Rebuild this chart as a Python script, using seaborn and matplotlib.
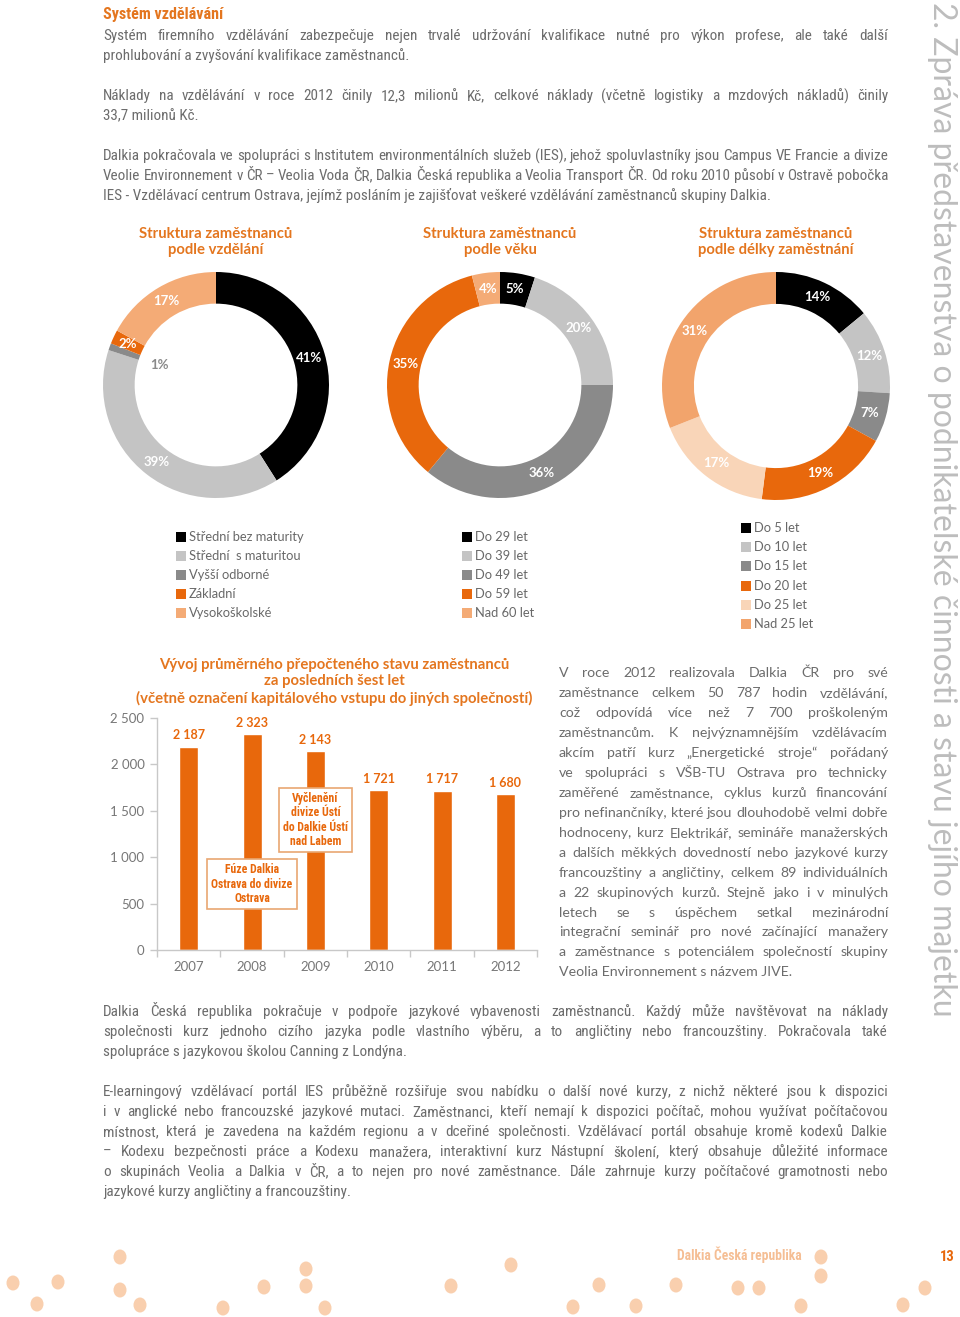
import numpy as np
import pandas as pd
import matplotlib
matplotlib.use("Agg")
import matplotlib.pyplot as plt
from matplotlib import font_manager as fm
from matplotlib.patches import Rectangle, Ellipse
import seaborn as sns

# ------------------------------------------------------------------ data
HEADING = "Systém vzdělávání"
TOP_PARAS = [
    ["Systém firemního vzdělávání zabezpečuje nejen trvalé udržování kvalifikace nutné pro výkon profese, ale také další",
     "prohlubování a zvyšování kvalifikace zaměstnanců."],
    ["Náklady na vzdělávání v roce 2012 činily 12,3 milionů Kč, celkové náklady (včetně logistiky a mzdových nákladů) činily",
     "33,7 milionů Kč."],
    ["Dalkia pokračovala ve spolupráci s Institutem environmentálních služeb (IES), jehož spoluvlastníky jsou Campus VE Francie a divize",
     "Veolie Environnement v ČR – Veolia Voda ČR,  Dalkia Česká republika a Veolia Transport ČR. Od roku 2010 působí v Ostravě pobočka",
     "IES - Vzdělávací centrum Ostrava, jejímž posláním je zajišťovat veškeré vzdělávání zaměstnanců skupiny Dalkia."],
]
BOTTOM_PARAS = [
    ["Dalkia Česká republika pokračuje v podpoře jazykové vybavenosti zaměstnanců. Každý může navštěvovat na náklady",
     "společnosti kurz jednoho cizího jazyka podle vlastního výběru, a to angličtiny nebo francouzštiny. Pokračovala také",
     "spolupráce s jazykovou školou Canning z Londýna."],
    ["E-learningový vzdělávací portál IES průběžně rozšiřuje svou nabídku o další nové kurzy, z nichž některé jsou k dispozici",
     "i v anglické nebo francouzské jazykové mutaci. Zaměstnanci, kteří nemají k dispozici počítač, mohou využívat počítačovou",
     "místnost, která je zavedena na každém regionu a v dceřiné společnosti. Vzdělávací portál obsahuje kromě kodexů Dalkie",
     "– Kodexu bezpečnosti práce a Kodexu manažera, interaktivní kurz Nástupní školení, který obsahuje důležité informace",
     "o skupinách Veolia a Dalkia v ČR, a to nejen pro nové zaměstnance. Dále zahrnuje kurzy počítačové gramotnosti nebo",
     "jazykové kurzy angličtiny a francouzštiny."],
]
SIDE_PARA = [
    "V roce 2012 realizovala Dalkia ČR pro své",
    "zaměstnance celkem 50 787 hodin vzdělávání,",
    "což odpovídá více než 7 700 proškoleným",
    "zaměstnancům. K nejvýznamnějším vzdělávacím",
    "akcím patří kurz „Energetické stroje“ pořádaný",
    "ve spolupráci s VŠB-TU Ostrava pro technicky",
    "zaměřené zaměstnance, cyklus kurzů financování",
    "pro nefinančníky, které jsou dlouhodobě velmi dobře",
    "hodnoceny, kurz Elektrikář, semináře manažerských",
    "a dalších měkkých dovedností nebo jazykové kurzy",
    "francouzštiny a angličtiny, celkem 89 individuálních",
    "a 22 skupinových kurzů. Stejně jako i v minulých",
    "letech se s úspěchem setkal mezinárodní",
    "integrační seminář pro nové začínající manažery",
    "a zaměstnance s potenciálem společností skupiny",
    "Veolia Environnement s názvem JIVE.",
]
VERTICAL_TITLE = "2. Zpráva představenstva o podnikatelské činnosti a stavu jejího majetku"
FOOTER_TEXT = "Dalkia Česká republika"
PAGE_NO = "13"

EDU_TITLE = ["Struktura zaměstnanců", "podle vzdělání"]
EDU_LABELS = ["Střední bez maturity", "Střední  s maturitou", "Vyšší odborné", "Základní", "Vysokoškolské"]
EDU_VALUES = [41, 39, 1, 2, 17]

AGE_TITLE = ["Struktura zaměstnanců", "podle věku"]
AGE_LABELS = ["Do 29 let", "Do 39 let", "Do 49 let", "Do 59 let", "Nad 60 let"]
AGE_VALUES = [5, 20, 36, 35, 4]

TENURE_TITLE = ["Struktura zaměstnanců", "podle délky zaměstnání"]
TENURE_LABELS = ["Do 5 let", "Do 10 let", "Do 15 let", "Do 20 let", "Do 25 let", "Nad 25 let"]
TENURE_VALUES = [14, 12, 7, 19, 17, 31]

BAR_TITLE = ["Vývoj průměrného přepočteného stavu zaměstnanců",
             "za posledních šest let",
             "(včetně označení kapitálového vstupu do jiných společností)"]
YEARS = ["2007", "2008", "2009", "2010", "2011", "2012"]
HEADCOUNT = [2187, 2323, 2143, 1721, 1717, 1680]
Y_TICKS = [0, 500, 1000, 1500, 2000, 2500]
Y_TICK_LABELS = ["0", "500", "1 000", "1 500", "2 000", "2 500"]
NOTE_MERGER = "Fúze Dalkia\nOstrava do divize\nOstrava"
NOTE_MERGER_AT = (1, 710)
NOTE_SPINOFF = "Vyčlenění\ndivize Ústí\ndo Dalkie Ústí\nnad Labem"
NOTE_SPINOFF_AT = (2, 1400)

DECOR_DOTS = [(13, 1283), (58, 1282), (37, 1304), (120, 1257), (120, 1290), (140, 1305),
              (223, 1308), (264, 1287), (306, 1269), (306, 1286), (325, 1308), (451, 1286),
              (511, 1265), (599, 1285), (573, 1307), (636, 1306), (676, 1285), (738, 1288),
              (759, 1288), (821, 1257), (821, 1276), (801, 1306), (903, 1305), (925, 1288)]

# ------------------------------------------------------------------ style
BLACK = "#000000"
LGRAY = "#c4c4c4"
MGRAY = "#8a8a8a"
ORANGE = "#e8680c"
LORANGE = "#f4ab76"
LORANGE2 = "#f2a46c"
VLORANGE = "#f9d5b8"
TITLE_OR = "#e4761f"
TEXT_GRAY = "#6c6c6c"
LEG_GRAY = "#686868"
DOT = "#f9cfae"

sns.set_theme(style="white")


def has_font(name):
    try:
        fm.findfont(fm.FontProperties(family=name), fallback_to_default=False)
        return True
    except Exception:
        return False


MAIN = "Lato" if has_font("Lato") else "DejaVu Sans"
NARROW = next((f for f in ["Liberation Sans Narrow", "Roboto Condensed", "Open Sans Condensed"] if has_font(f)), MAIN)
plt.rcParams["font.family"] = [MAIN, "DejaVu Sans"]

W, H = 960, 1317
fig = plt.figure(figsize=(W / 100, H / 100), dpi=100)
fig.patch.set_facecolor("white")
page = fig.add_axes([0, 0, 1, 1])
page.set_xlim(0, W)
page.set_ylim(H, 0)
page.axis("off")
renderer = fig.canvas.get_renderer()


def tw(s, size, family, weight="normal"):
    t = page.text(0, 0, s, fontsize=size, family=[family, "DejaVu Sans"], fontweight=weight)
    w = t.get_window_extent(renderer=renderer).width
    t.remove()
    return w


def fit_size(paras, width, base, family, cap):
    ratios = [width / tw(l, base, family) for p in paras for l in p[:-1]]
    return min(base * min(ratios), cap)


def paragraph(lines, x0, x1, y0, step, size, family, color):
    px = size * 100 / 72
    for i, line in enumerate(lines):
        yb = y0 + i * step + 0.36 * px
        kw = dict(fontsize=size, family=[family, "DejaVu Sans"], color=color, va="baseline", ha="left")
        if i == len(lines) - 1:
            page.text(x0, yb, line, **kw)
            continue
        words = line.split()
        ws = [tw(w, size, family) for w in words]
        gap = (x1 - x0 - sum(ws)) / (len(words) - 1)
        x = x0
        for w, wd in zip(words, ws):
            page.text(x, yb, w, **kw)
            x += wd + gap


# ------------------------------------------------------------------ body text
page.text(103, 15, HEADING, fontsize=11.5, fontweight="bold", color=TITLE_OR,
          family=[NARROW, "DejaVu Sans"], va="center", ha="left")
body_size = fit_size(TOP_PARAS + BOTTOM_PARAS, 785, 10, NARROW, 11)
for p, y0 in zip(TOP_PARAS, [35, 95, 155]):
    paragraph(p, 103, 888, y0, 19.8, body_size, NARROW, TEXT_GRAY)
for p, y0 in zip(BOTTOM_PARAS, [1011, 1091]):
    paragraph(p, 103, 888, y0, 19.9, body_size, NARROW, TEXT_GRAY)
side_size = fit_size([SIDE_PARA], 329, 10, MAIN, 10.5)
paragraph(SIDE_PARA, 559, 888, 672, 19.95, side_size, MAIN, TEXT_GRAY)

# vertical running title
vs = 20 * 1016 / tw(VERTICAL_TITLE, 20, MAIN, "normal")
page.text(942, 2, VERTICAL_TITLE, rotation=270, ha="center", va="top", fontsize=vs,
          fontweight="normal", color="#bdbdbd", family=[MAIN, "DejaVu Sans"])

# footer
for (x, y) in DECOR_DOTS:
    page.add_patch(Ellipse((x, y), 13, 15, fc=DOT, ec="none"))
page.text(677, 1255, FOOTER_TEXT, fontsize=9.8, fontweight="bold", color="#f5be94",
          family=[NARROW, "DejaVu Sans"], va="center", ha="left")
page.text(947, 1257, PAGE_NO, fontsize=10.5, fontweight="bold", color=ORANGE,
          family=[NARROW, "DejaVu Sans"], va="center", ha="center")

TITLE_SIZE = 10.7


# ------------------------------------------------------------------ donuts
def donut(cx, cy, R, values, colors, title):
    ax = fig.add_axes([(cx - R) / W, 1 - (cy + R) / H, 2 * R / W, 2 * R / H])
    ax.patch.set_alpha(0)
    ax.pie(values, colors=colors, startangle=90, counterclock=False, radius=1,
           wedgeprops=dict(width=0.28, linewidth=0))
    ax.set_xlim(-1, 1)
    ax.set_ylim(-1, 1)
    ax.set_aspect("equal")
    ax.axis("off")
    total = float(sum(values))
    cum = 0
    for v in values:
        th = np.deg2rad((cum + v / 2) / total * 360)
        cum += v
        if v / total < 0.015:
            r, col = 0.53, MGRAY
        else:
            r, col = 0.86, "white"
        ax.text(r * np.sin(th), r * np.cos(th), f"{v}%", ha="center", va="center",
                color=col, fontsize=9.5, fontweight="bold")
    for i, line in enumerate(title):
        page.text(cx, 234 + 16 * i, line, ha="center", va="center", fontsize=TITLE_SIZE,
                  fontweight="bold", color=TITLE_OR)


def legend(x, y0, step, labels, colors):
    for i, (lab, c) in enumerate(zip(labels, colors)):
        y = y0 + i * step
        page.add_patch(Rectangle((x, y - 5), 10, 10, fc=c, ec="none"))
        page.text(x + 13, y, lab, ha="left", va="center", fontsize=9.3, color=LEG_GRAY)


EDU_COLORS = [BLACK, LGRAY, MGRAY, ORANGE, LORANGE]
AGE_COLORS = [BLACK, LGRAY, MGRAY, ORANGE, LORANGE]
TENURE_COLORS = [BLACK, LGRAY, MGRAY, ORANGE, VLORANGE, LORANGE2]

donut(216, 385, 113, EDU_VALUES, EDU_COLORS, EDU_TITLE)
donut(500, 385, 113, AGE_VALUES, AGE_COLORS, AGE_TITLE)
donut(776, 386, 114, TENURE_VALUES, TENURE_COLORS, TENURE_TITLE)
legend(176, 537, 19, EDU_LABELS, EDU_COLORS)
legend(462, 537, 19, AGE_LABELS, AGE_COLORS)
legend(741, 528, 19.2, TENURE_LABELS, TENURE_COLORS)

# ------------------------------------------------------------------ bar chart
for i, line in enumerate(BAR_TITLE):
    page.text(334, 665 + 16.5 * i, line, ha="center", va="center", fontsize=TITLE_SIZE,
              fontweight="bold", color=TITLE_OR)

ax = fig.add_axes([157 / W, 1 - 950 / H, 380 / W, 232 / H])
ax.patch.set_alpha(0)
df = pd.DataFrame({"year": YEARS, "headcount": HEADCOUNT})
sns.barplot(data=df, x="year", y="headcount", color=ORANGE, saturation=1, width=0.3, ax=ax)
ax.set_xlim(-0.5, len(YEARS) - 0.5)
ax.set_ylim(0, 2500)
ax.set_xlabel("")
ax.set_ylabel("")
ax.set_yticks(Y_TICKS)
ax.set_yticklabels(Y_TICK_LABELS)
ax.set_xticks(np.arange(-0.5, len(YEARS), 1), minor=True)
for s in ["top", "right"]:
    ax.spines[s].set_visible(False)
for s in ["left", "bottom"]:
    ax.spines[s].set_color("#c8c8c8")
    ax.spines[s].set_linewidth(1)
ax.tick_params(axis="x", which="major", length=0, pad=8, labelsize=9.5, labelcolor="#777777")
ax.tick_params(axis="x", which="minor", length=5, color="#c8c8c8", width=1, bottom=True)
ax.tick_params(axis="y", length=5, color="#c8c8c8", width=1, pad=4, labelsize=9.5,
               labelcolor="#777777", left=True)
for i, v in enumerate(HEADCOUNT):
    ax.annotate(f"{v:,}".replace(",", " "), (i, v), xytext=(0, 4), textcoords="offset points",
                ha="center", va="bottom", fontsize=9, fontweight="bold", color=ORANGE)
box = dict(boxstyle="square,pad=0.35", fc="white", ec="#e9a772", lw=1.2)
ax.text(*NOTE_MERGER_AT, NOTE_MERGER, ha="center", va="center", fontsize=8.5, fontweight="bold",
        color=ORANGE, family=[NARROW, "DejaVu Sans"], linespacing=1.12, bbox=box)
ax.text(*NOTE_SPINOFF_AT, NOTE_SPINOFF, ha="center", va="center", fontsize=8.5, fontweight="bold",
        color=ORANGE, family=[NARROW, "DejaVu Sans"], linespacing=1.12, bbox=box)

fig.savefig("out.png", dpi=100, facecolor="white")
